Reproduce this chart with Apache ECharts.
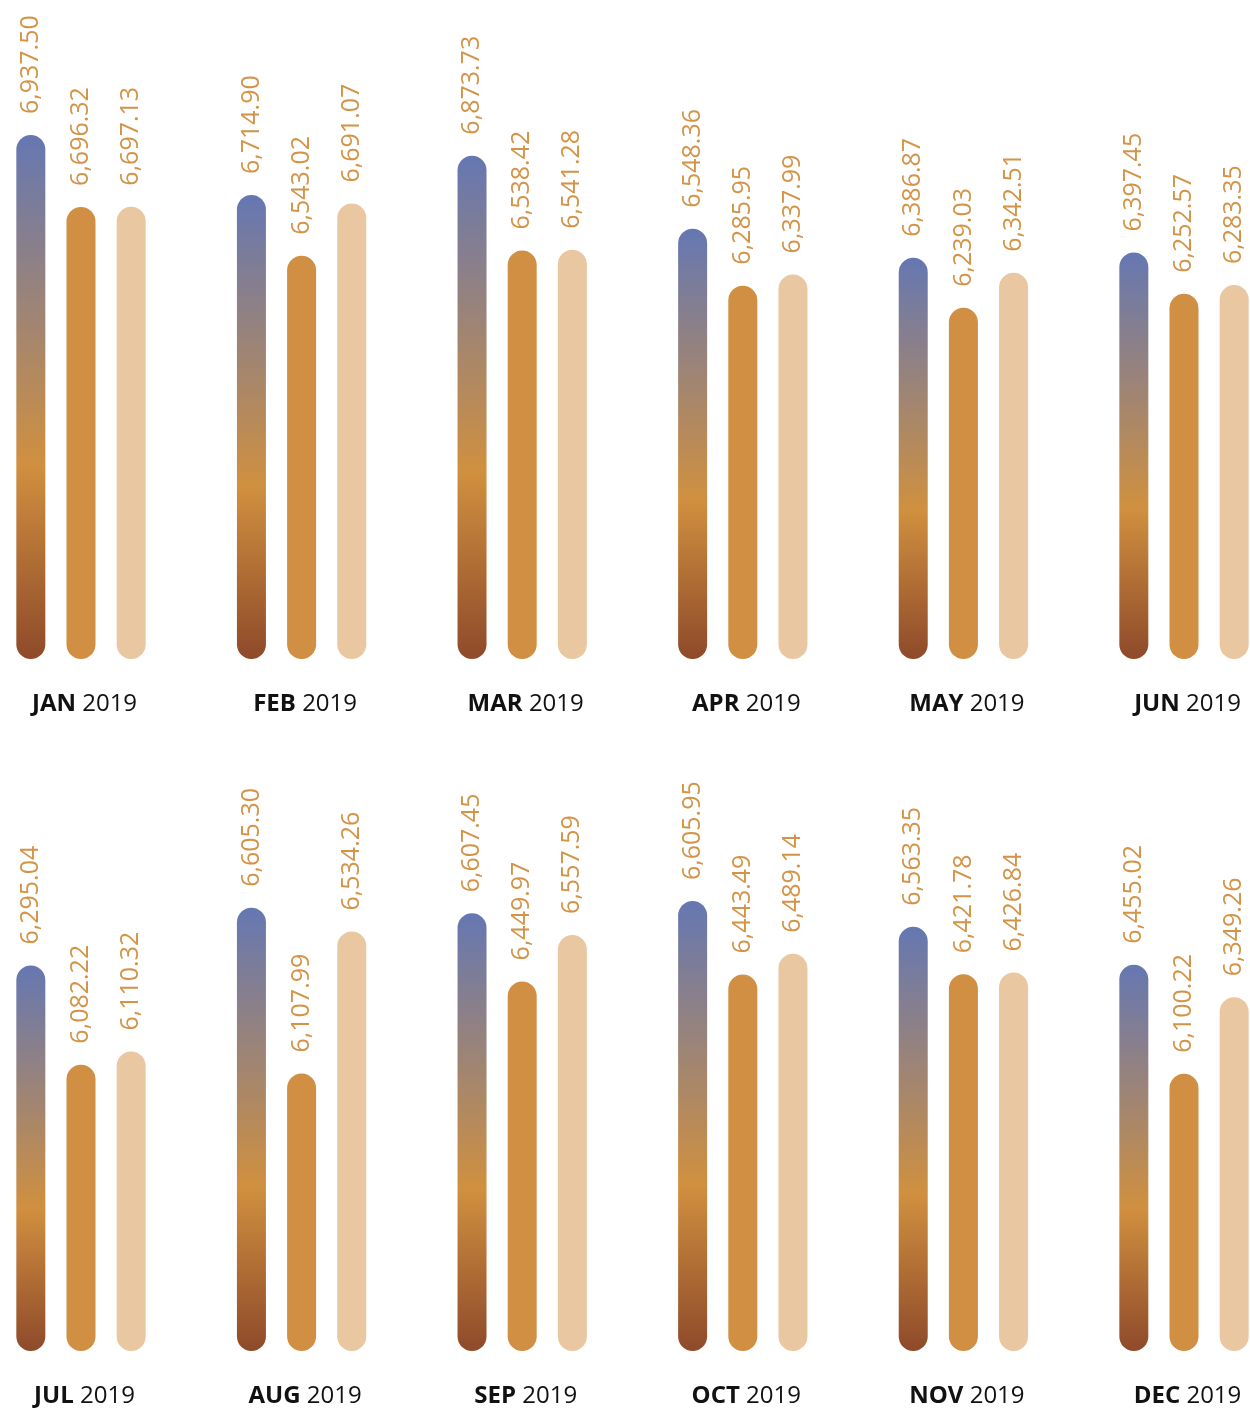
<!DOCTYPE html>
<html>
<head>
<meta charset="utf-8">
<title>Monthly values 2019</title>
<script src="https://cdn.jsdelivr.net/npm/echarts@6/dist/echarts.min.js"></script>
<style>
  html, body { margin: 0; padding: 0; background: #ffffff; }
  #chart { width: 1250px; height: 1412px; }
</style>
</head>
<body>
<div id="chart"></div>
<script>
// Months shown as small multiples, two rows of six
const months = ['JAN', 'FEB', 'MAR', 'APR', 'MAY', 'JUN', 'JUL', 'AUG', 'SEP', 'OCT', 'NOV', 'DEC'];
const year = '2019';

// Three values per month
const seriesA = [6937.50, 6714.90, 6873.73, 6548.36, 6386.87, 6397.45, 6295.04, 6605.30, 6607.45, 6605.95, 6563.35, 6455.02];
const seriesB = [6696.32, 6543.02, 6538.42, 6285.95, 6239.03, 6252.57, 6082.22, 6107.99, 6449.97, 6443.49, 6421.78, 6100.22];
const seriesC = [6697.13, 6691.07, 6541.28, 6337.99, 6342.51, 6283.35, 6110.32, 6534.26, 6557.59, 6489.14, 6426.84, 6349.26];

// Each panel has its own value axis range
const axisMin = [5178, 5402, 5096, 4563, 5203, 4969, 5467, 5275, 5595, 5610, 5301, 5198];
const axisMax = [7193, 7100, 7215, 7332, 6973, 7078, 6756, 7076, 6983, 6938, 7086, 7151];

const chart = echarts.init(document.getElementById('chart'), null, { renderer: 'canvas' });

const FONT = '"Open Sans", "Noto Sans", sans-serif';
const fmt = v => v.toLocaleString('en-US', { minimumFractionDigits: 2, maximumFractionDigits: 2 });

const gradientFill = new echarts.graphic.LinearGradient(0, 0, 0, 1, [
  { offset: 0, color: '#6577b2' },
  { offset: 0.63, color: '#d0903f' },
  { offset: 1, color: '#8e4a2a' }
]);

const grids = [], xAxes = [], yAxes = [], series = [];
const PANEL_STEP = 220.6;
const PANEL_W = 130;

months.forEach((m, i) => {
  const col = i % 6;
  const row = Math.floor(i / 6);
  const cx = 81 + PANEL_STEP * col;
  grids.push({
    left: cx - PANEL_W / 2,
    width: PANEL_W,
    top: row === 0 ? 59 : 751,
    height: 600,
    containLabel: false,
    outerBoundsMode: 'none'
  });
  xAxes.push({
    type: 'category',
    gridIndex: i,
    data: [m + ' ' + year],
    axisLine: { show: false },
    axisTick: { show: false },
    splitLine: { show: false },
    axisLabel: {
      margin: 33,
      padding: [0, 0, 0, 7],
      hideOverlap: false,
      formatter: () => '{b|' + m + '}{r| ' + year + '}',
      rich: {
        b: { fontFamily: FONT, fontSize: 24, fontWeight: 'bold', color: '#111111' },
        r: { fontFamily: FONT, fontSize: 24, fontWeight: 'normal', color: '#111111' }
      }
    }
  });
  yAxes.push({
    type: 'value',
    gridIndex: i,
    min: axisMin[i],
    max: axisMax[i],
    show: false,
    splitLine: { show: false }
  });

  const label = {
    show: true,
    position: 'top',
    rotate: 90,
    align: 'left',
    verticalAlign: 'middle',
    distance: 21,
    fontFamily: FONT,
    fontSize: 25,
    fontWeight: 'normal',
    color: '#d39447',
    formatter: p => fmt(p.value)
  };
  const common = {
    type: 'bar',
    xAxisIndex: i,
    yAxisIndex: i,
    barWidth: 29,
    barGap: '73%',
    label: label,
    silent: true,
    animation: false
  };
  series.push(Object.assign({}, common, {
    name: 'A',
    data: [seriesA[i]],
    itemStyle: { color: gradientFill, borderRadius: 15 }
  }));
  series.push(Object.assign({}, common, {
    name: 'B',
    data: [seriesB[i]],
    itemStyle: { color: '#d08f42', borderRadius: 15 }
  }));
  series.push(Object.assign({}, common, {
    name: 'C',
    data: [seriesC[i]],
    itemStyle: { color: '#e9c7a1', borderRadius: 15 }
  }));
});

chart.setOption({
  backgroundColor: '#ffffff',
  animation: false,
  grid: grids,
  xAxis: xAxes,
  yAxis: yAxes,
  series: series
});
</script>
</body>
</html>
